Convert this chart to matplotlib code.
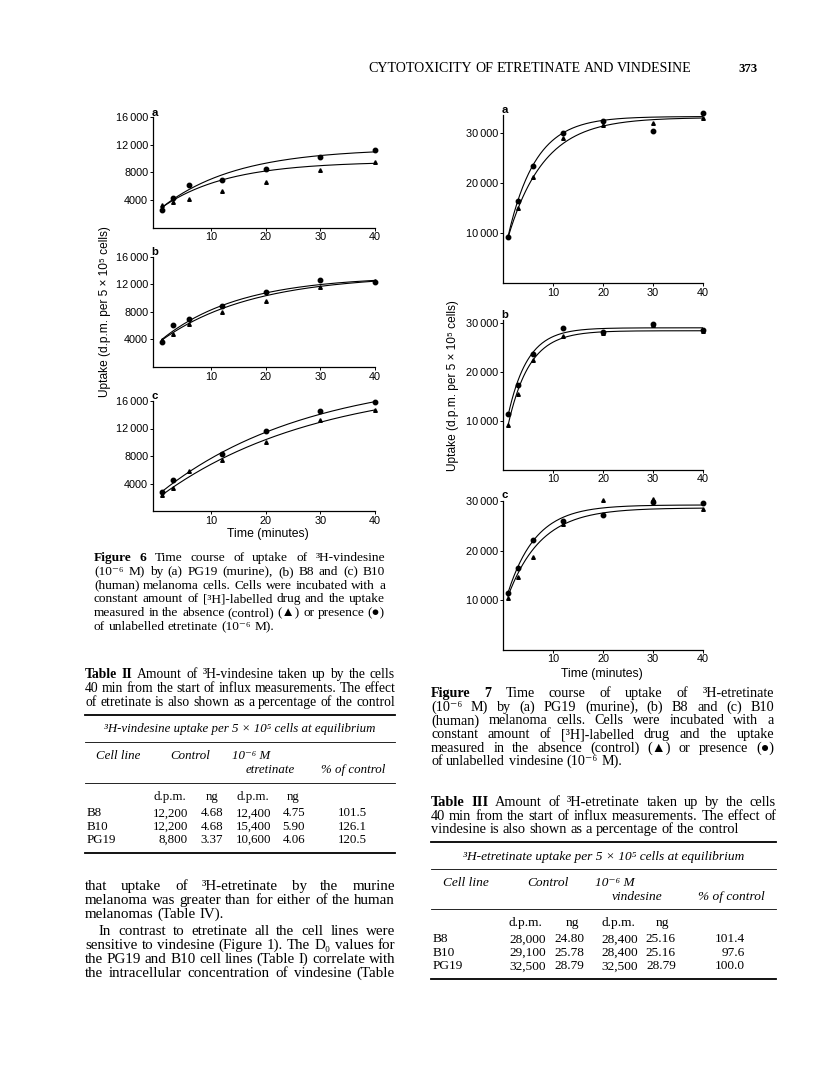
import numpy as np
import matplotlib
matplotlib.use("Agg")
import matplotlib.pyplot as plt
from matplotlib.lines import Line2D

W, H = 816, 1073
SERIF = ['Liberation Serif', 'DejaVu Serif', 'DejaVu Sans']
SANS = ['Liberation Sans', 'DejaVu Sans']

# sampling times (minutes)
times = [1, 3, 6, 12, 20, 30, 40]

# Figure 6: 3H-vindesine uptake, control (triangles) and + etretinate (circles)
vin_pg19_ctrl = [3200, 3750, 4150, 5250, 6600, 8400, 9500]
vin_pg19_etr = [2600, 4300, 6150, 6900, 8500, 10200, 11200]
vin_b8_ctrl = [3900, 4750, 6250, 7950, 9600, 11600, 12500]
vin_b8_etr = [3700, 6050, 7000, 8800, 10900, 12600, 12400]
vin_b10_ctrl = [2350, 3400, 5800, 7350, 10000, 13300, 14700]
vin_b10_etr = [2750, 4450, np.nan, 8300, 11650, 14500, 15900]

# Figure 7: 3H-etretinate uptake, control (triangles) and + vindesine (circles)
etr_pg19_ctrl = [9400, 14900, 21100, 29000, 31500, 31900, 33000]
etr_pg19_vin = [9200, 16300, 23300, 29900, 32300, 30300, 33800]
etr_b8_ctrl = [9050, 15400, 22400, 27300, 28000, 29600, 28300]
etr_b8_vin = [11300, 17300, 23700, 29000, 28200, 29800, 28500]
etr_b10_ctrl = [10500, 14600, 18800, 25400, 30300, 30600, 28500]
etr_b10_vin = [11500, 16600, 22200, 26100, 27200, 29800, 29700]

# drawn curves: plateau, value at 1 min, rate per min
fit_vin_pg19 = [(9600, 2900, 0.083), (11500, 2900, 0.073)]
fit_vin_b8 = [(13400, 3900, 0.060), (13200, 4000, 0.070)]
fit_vin_b10 = [(19000, 2300, 0.0348), (20000, 2800, 0.0368)]
fit_etr_pg19 = [(33000, 9000, 0.139), (33200, 9200, 0.181)]
fit_etr_b8 = [(28400, 9000, 0.235), (29000, 11000, 0.256)]
fit_etr_b10 = [(28700, 10800, 0.151), (29300, 11500, 0.178)]

yt6 = [4000, 8000, 12000, 16000]
yt6_labels = ['4000', '8000', '12\u2009000', '16\u2009000']
yt7 = [10000, 20000, 30000]
yt7_labels = ['10\u2009000', '20\u2009000', '30\u2009000']
xt = [10, 20, 30, 40]

fig = plt.figure(figsize=(W / 100, H / 100), dpi=100)
renderer = fig.canvas.get_renderer()


def fx(x):
    return x / W


def fy(y):
    return 1 - y / H


def curve(t, plateau, y1, k):
    return plateau - (plateau - y1) * np.exp(-k * (t - 1))


def panel(x0, y0, x1, y1, xmin, ymax, ctrl, treat, fits, yt, ytl, letter):
    ax = fig.add_axes([fx(x0), fy(y1), (x1 - x0) / W, (y1 - y0) / H])
    tt = np.linspace(1, 40, 200)
    for p in fits:
        ax.plot(tt, curve(tt, *p), color='k', lw=0.8)
    ax.plot(times, treat, 'o', ms=3.2, color='k', clip_on=False)
    ax.plot(times, ctrl, '^', ms=2.6, color='k', clip_on=False)
    ax.set_xlim(xmin, 40)
    ax.set_ylim(0, ymax)
    for s in ['top', 'right']:
        ax.spines[s].set_visible(False)
    for s in ['left', 'bottom']:
        ax.spines[s].set_linewidth(0.9)
    ax.set_xticks(xt)
    ax.set_yticks(yt)
    ax.set_yticklabels(ytl)
    ax.tick_params(length=2, width=0.7, pad=1.5, labelsize=7.8)
    for lab in ax.get_xticklabels() + ax.get_yticklabels():
        lab.set_family(SANS)
    fig.text(fx(x0 + 2), fy(y0 - 5), letter, fontsize=8.2, fontweight='bold',
             family=SANS, ha='center', va='center')
    return ax


# Figure 6
panel(153, 117.5, 375, 227.5, -0.6, 16000, vin_pg19_ctrl, vin_pg19_etr, fit_vin_pg19, yt6, yt6_labels, 'a')
panel(153, 257, 375, 367, -0.6, 16000, vin_b8_ctrl, vin_b8_etr, fit_vin_b8, yt6, yt6_labels, 'b')
panel(153, 401, 375, 511, -0.6, 16000, vin_b10_ctrl, vin_b10_etr, fit_vin_b10, yt6, yt6_labels, 'c')
fig.text(fx(268), fy(534), 'Time (minutes)', fontsize=8.8, family=SANS, ha='center', va='center')
fig.text(fx(105), fy(312), 'Uptake (d.p.m. per 5 \u00d7 10\u2075 cells)', fontsize=8.6, family=SANS,
         rotation=90, ha='center', va='center')

# Figure 7
panel(503, 115, 703, 282.7, 0, 33500, etr_pg19_ctrl, etr_pg19_vin, fit_etr_pg19, yt7, yt7_labels, 'a')
panel(503, 320, 703, 469.5, 0, 30600, etr_b8_ctrl, etr_b8_vin, fit_etr_b8, yt7, yt7_labels, 'b')
panel(503, 500.5, 703, 649.5, 0, 30200, etr_b10_ctrl, etr_b10_vin, fit_etr_b10, yt7, yt7_labels, 'c')
fig.text(fx(602), fy(674), 'Time (minutes)', fontsize=8.8, family=SANS, ha='center', va='center')
fig.text(fx(453), fy(386), 'Uptake (d.p.m. per 5 \u00d7 10\u2075 cells)', fontsize=8.6, family=SANS,
         rotation=90, ha='center', va='center')


def words_of(text, size, bold_n=0, italic=False):
    objs = []
    for i, w in enumerate(text.split(' ')):
        t = fig.text(0, 0, w, fontsize=size, family=SERIF,
                     fontweight='bold' if i < bold_n else 'normal',
                     fontstyle='italic' if italic else 'normal', va='baseline')
        objs.append(t)
    widths = [t.get_window_extent(renderer).width for t in objs]
    return objs, widths


def natural(text, size, bold_n=0):
    objs, widths = words_of(text, size, bold_n)
    for t in objs:
        t.remove()
    return sum(widths) + (len(widths) - 1) * size * 100 / 72 * 0.25


def line(text, x0, x1, yc, size, justify=True, bold_n=0):
    # lay words out one by one so the line can be justified like the print
    objs, widths = words_of(text, size, bold_n)
    if justify and len(objs) > 1:
        gap = (x1 - x0 - sum(widths)) / (len(objs) - 1)
    else:
        gap = size * 100 / 72 * 0.25
    x = x0
    for t, w in zip(objs, widths):
        t.set_position((fx(x), fy(yc + 0.3 * size * 100 / 72)))
        x += w + gap


def para(lines, x0, x1, y0, dy, bold_n=0, last_full=False, indent=0, size=None):
    if size is None:
        # font size chosen so the tightest justified line gets normal spacing
        full = lines if last_full else lines[:-1]
        ratios = []
        for i, s in enumerate(full):
            target = x1 - x0 - (indent if i == 0 else 0)
            ratios.append(target / natural(s, 9.0, bold_n if i == 0 else 0))
        size = 9.0 * min(ratios)
    for i, s in enumerate(lines):
        last = i == len(lines) - 1
        line(s, x0 + (indent if i == 0 else 0), x1, y0 + i * dy, size,
             justify=(not last) or last_full, bold_n=bold_n if i == 0 else 0)
    return size


# running head
para(['CYTOTOXICITY OF ETRETINATE AND VINDESINE'], 368, 692, 68, 14, last_full=True)
fig.text(fx(738), fy(68 + 4), '373', fontsize=9.2, family=SERIF, fontweight='bold', va='baseline')

# captions
cap6 = ['Figure 6 Time course of uptake of \u00b3H-vindesine',
        '(10\u207b\u2076 M) by (a) PG19 (murine), (b) B8 and (c) B10',
        '(human) melanoma cells. Cells were incubated with a',
        'constant amount of [\u00b3H]-labelled drug and the uptake',
        'measured in the absence (control) (\u25b2) or presence (\u25cf)',
        'of unlabelled etretinate (10\u207b\u2076 M).']
cap7 = ['Figure 7 Time course of uptake of \u00b3H-etretinate',
        '(10\u207b\u2076 M) by (a) PG19 (murine), (b) B8 and (c) B10',
        '(human) melanoma cells. Cells were incubated with a',
        'constant amount of [\u00b3H]-labelled drug and the uptake',
        'measured in the absence (control) (\u25b2) or presence (\u25cf)',
        'of unlabelled vindesine (10\u207b\u2076 M).']
cap_size = para(cap6, 94, 385, 557, 13.8, bold_n=2)
para(cap7, 431, 774, 693, 13.6, bold_n=2, size=cap_size * 1.05)

tab2_cap = ['Table II Amount of \u00b3H-vindesine taken up by the cells',
            '40 min from the start of influx measurements. The effect',
            'of etretinate is also shown as a percentage of the control']
tab3_cap = ['Table III Amount of \u00b3H-etretinate taken up by the cells',
            '40 min from the start of influx measurements. The effect of',
            'vindesine is also shown as a percentage of the control']
tcap_size = para(tab2_cap, 85, 395, 674, 14, bold_n=2, last_full=True)
para(tab3_cap, 431, 776, 802, 13.5, bold_n=2, size=tcap_size * 1.05)

body = ['that uptake of \u00b3H-etretinate by the murine',
        'melanoma was greater than for either of the human',
        'melanomas (Table IV).']
body2 = ['In contrast to etretinate all the cell lines were',
         'sensitive to vindesine (Figure 1). The D\u2080 values for',
         'the PG19 and B10 cell lines (Table I) correlate with',
         'the intracellular concentration of vindesine (Table']
sz = para(body2, 85, 395, 930, 14, last_full=True, indent=14)
line(body[0], 85, 395, 885, sz)
line(body[1], 85, 395, 899, sz)
line(body[2], 85, 395, 913, sz, justify=False)

# tables
cell_lines = ['B8', 'B10', 'PG19']
t2_ctrl_dpm = ['12,200', '12,200', '8,800']
t2_ctrl_ng = ['4.68', '4.68', '3.37']
t2_drug_dpm = ['12,400', '15,400', '10,600']
t2_drug_ng = ['4.75', '5.90', '4.06']
t2_pct = ['101.5', '126.1', '120.5']
t3_ctrl_dpm = ['28,000', '29,100', '32,500']
t3_ctrl_ng = ['24.80', '25.78', '28.79']
t3_drug_dpm = ['28,400', '28,400', '32,500']
t3_drug_ng = ['25.16', '25.16', '28.79']
t3_pct = ['101.4', '97.6', '100.0']


def rule(x0, x1, y, lw):
    fig.add_artist(Line2D([fx(x0), fx(x1)], [fy(y), fy(y)], transform=fig.transFigure,
                          color='k', lw=lw))


def table(x0, x1, ys, title, size, drug, cols):
    sc = (x1 - x0) / 310.0

    def X(d):
        return x0 + d * sc

    kw = dict(fontsize=size, family=SERIF, va='center')
    rule(x0, x1, ys[0], 1.3)
    fig.text(fx((x0 + x1) / 2), fy(ys[1]), title, fontstyle='italic', ha='center', **kw)
    rule(x0, x1, ys[2], 0.6)
    fig.text(fx(X(11)), fy(ys[3]), 'Cell line', fontstyle='italic', ha='left', **kw)
    fig.text(fx(X(105)), fy(ys[3]), 'Control', fontstyle='italic', ha='center', **kw)
    fig.text(fx(X(147)), fy(ys[3]), '10\u207b\u2076 M', fontstyle='italic', ha='left', **kw)
    fig.text(fx(X(185)), fy(ys[4]), drug, fontstyle='italic', ha='center', **kw)
    fig.text(fx(X(300)), fy(ys[4]), '% of control', fontstyle='italic', ha='right', **kw)
    rule(x0, x1, ys[5], 0.6)
    for d, s in zip([85, 127, 168, 208], ['d.p.m.', 'ng', 'd.p.m.', 'ng']):
        fig.text(fx(X(d)), fy(ys[6]), s, ha='center', **kw)
    for i, name in enumerate(cell_lines):
        y = ys[7] + i * 13.4
        fig.text(fx(X(1.5)), fy(y), name, ha='left', **kw)
        for d, col in zip([103, 138, 186, 220, 282], cols):
            fig.text(fx(X(d)), fy(y), col[i], ha='right', **kw)
    rule(x0, x1, ys[8], 1.3)


tt = fig.text(0, 0, '\u00b3H-vindesine uptake per 5 \u00d7 10\u2075 cells at equilibrium',
              fontsize=9, family=SERIF, fontstyle='italic')
tab_size = 9 * 269 / tt.get_window_extent(renderer).width
tt.remove()

table(85, 395, [715, 729, 741.7, 755.7, 770, 782.7, 797, 813.3, 853.3],
      '\u00b3H-vindesine uptake per 5 \u00d7 10\u2075 cells at equilibrium', tab_size, 'etretinate',
      [t2_ctrl_dpm, t2_ctrl_ng, t2_drug_dpm, t2_drug_ng, t2_pct])
table(431, 776, [842, 857, 869, 883, 897, 909, 923, 939.5, 979],
      '\u00b3H-etretinate uptake per 5 \u00d7 10\u2075 cells at equilibrium', tab_size * 1.04, 'vindesine',
      [t3_ctrl_dpm, t3_ctrl_ng, t3_drug_dpm, t3_drug_ng, t3_pct])

fig.savefig('out.png', dpi=100)
